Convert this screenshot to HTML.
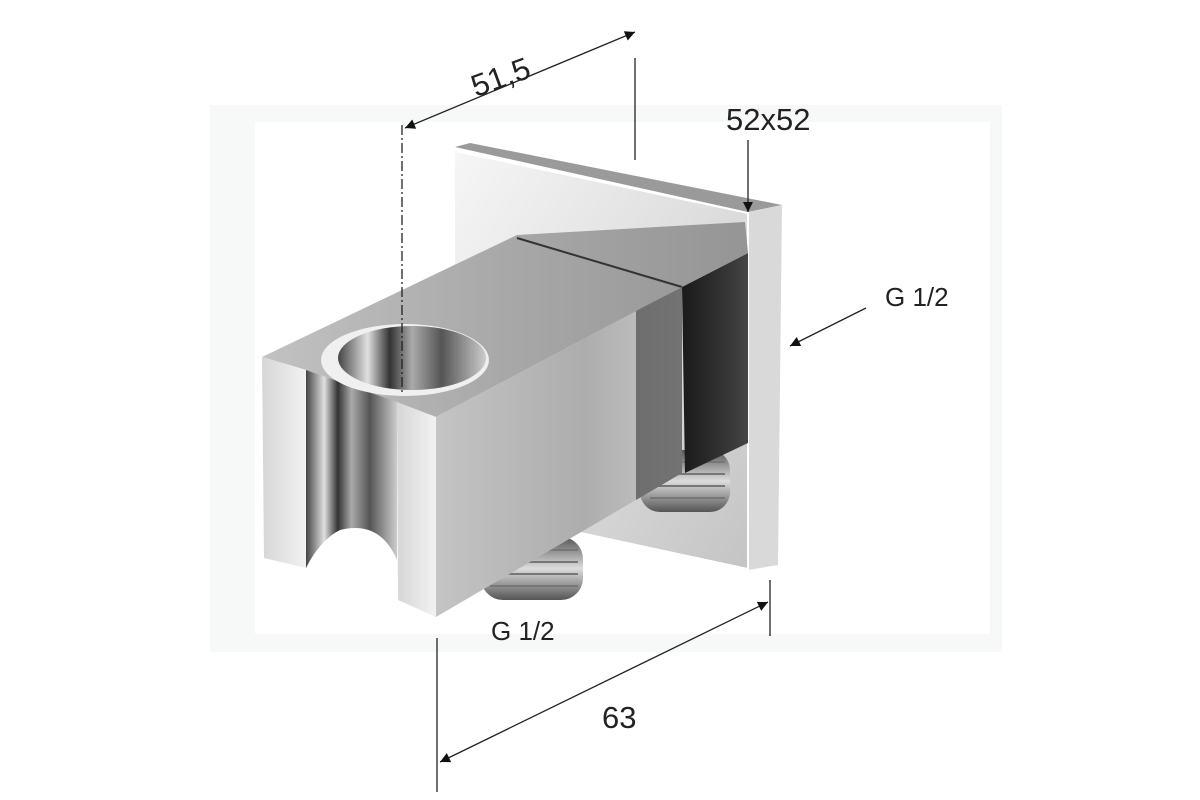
<!DOCTYPE html>
<html><head><meta charset="utf-8"><style>
html,body{margin:0;padding:0;background:#fff;}
svg{display:block;}
text{font-family:"Liberation Sans",sans-serif;fill:#222;}
</style></head><body>
<svg width="1200" height="800" viewBox="0 0 1200 800" xmlns="http://www.w3.org/2000/svg">
<defs>
<linearGradient id="plate" x1="0" y1="0" x2="1" y2="1">
<stop offset="0" stop-color="#f6f6f6"/><stop offset="0.5" stop-color="#dedede"/><stop offset="1" stop-color="#c4c4c4"/></linearGradient>
<linearGradient id="top" x1="0" y1="0" x2="1" y2="0">
<stop offset="0" stop-color="#c2c2c2"/><stop offset="0.5" stop-color="#a8a8a8"/><stop offset="1" stop-color="#959595"/></linearGradient>
<linearGradient id="face" x1="0" y1="0" x2="1" y2="0">
<stop offset="0" stop-color="#c4c4c4"/><stop offset="0.6" stop-color="#adadad"/><stop offset="1" stop-color="#c8c8c8"/></linearGradient>
<linearGradient id="prong" x1="0" y1="0" x2="1" y2="0">
<stop offset="0" stop-color="#d6d6d6"/><stop offset="1" stop-color="#f2f2f2"/></linearGradient>
<linearGradient id="inner" x1="0" y1="0" x2="1" y2="0">
<stop offset="0" stop-color="#444"/><stop offset="0.2" stop-color="#e0e0e0"/><stop offset="0.35" stop-color="#333"/><stop offset="0.5" stop-color="#aaa"/><stop offset="0.7" stop-color="#555"/><stop offset="1" stop-color="#ccc"/></linearGradient>
<linearGradient id="dark" x1="0" y1="0" x2="1" y2="0">
<stop offset="0" stop-color="#1a1a1a"/><stop offset="0.5" stop-color="#2e2e2e"/><stop offset="1" stop-color="#444"/></linearGradient>
<linearGradient id="thread" x1="0" y1="0" x2="0" y2="1">
<stop offset="0" stop-color="#555"/><stop offset="0.5" stop-color="#ddd"/><stop offset="1" stop-color="#555"/></linearGradient>
<marker id="ar" viewBox="0 0 10 10" refX="10" refY="5" markerWidth="14" markerHeight="10" orient="auto-start-reverse" markerUnits="userSpaceOnUse">
<path d="M0,0 L10,5 L0,10 z" fill="#111"/></marker>
</defs>
<!-- faint frame -->
<rect x="210" y="105" width="792" height="547" fill="#f7f9f9"/>
<rect x="255" y="122" width="735" height="512" fill="#fff"/>

<!-- plate -->
<polygon points="455,147 470,143 782,205 748,212" fill="#9a9a9a"/>
<polygon points="455,152 748,214 748,568 455,505" fill="url(#plate)"/>
<polygon points="748,212 782,205 778,565 748,570" fill="#d9d9d9"/>
<line x1="748" y1="212" x2="748" y2="570" stroke="#fff" stroke-width="2"/>

<!-- threads -->
<g fill="url(#thread)">
<rect x="640" y="450" width="90" height="62" rx="20"/>
<rect x="481" y="537" width="102" height="63" rx="22"/>
</g>
<g stroke="#777" stroke-width="2">
<line x1="650" y1="462" x2="725" y2="462"/><line x1="650" y1="474" x2="725" y2="474"/><line x1="650" y1="486" x2="725" y2="486"/><line x1="650" y1="498" x2="725" y2="498"/>
<line x1="490" y1="550" x2="578" y2="550"/><line x1="490" y1="562" x2="578" y2="562"/><line x1="490" y1="574" x2="578" y2="574"/><line x1="490" y1="586" x2="578" y2="586"/>
</g>

<!-- dark side face -->
<polygon points="682,287 748,253 748,443 685,473" fill="url(#dark)"/>
<!-- top face -->
<polygon points="262,357 517,235 745,222 748,253 682,287 436,417 306,370" fill="url(#top)"/>
<line x1="517" y1="238" x2="682" y2="287" stroke="#333" stroke-width="2"/>
<!-- inner cylinder -->
<path d="M306,370 L397,402 L397,560 Q380,520 340,530 Q320,540 306,568 Z" fill="url(#inner)"/>
<!-- hole -->
<ellipse cx="405" cy="360" rx="84" ry="36" fill="#f0f0f0"/>
<ellipse cx="412" cy="358" rx="74" ry="32" fill="url(#inner)"/>
<!-- left prong -->
<polygon points="262,357 306,370 306,568 264,558" fill="url(#prong)"/>
<!-- right prong thin face -->
<polygon points="397,402 436,417 436,617 398,600" fill="url(#prong)"/>
<!-- big front face -->
<polygon points="436,417 682,287 682,473 436,617" fill="url(#face)"/>
<polygon points="636,311 682,287 682,473 636,500" fill="#3a3a3a" opacity="0.6"/>

<!-- dimension lines -->
<g stroke="#222" stroke-width="1.3" fill="none">
<line x1="405" y1="128" x2="635" y2="32" marker-start="url(#ar)" marker-end="url(#ar)"/>
<line x1="635" y1="58" x2="635" y2="160"/>
<line x1="402" y1="125" x2="402" y2="395" stroke-dasharray="10,3,2,3"/>
<line x1="748" y1="140" x2="748" y2="212" marker-end="url(#ar)"/>
<line x1="866" y1="308" x2="790" y2="346" marker-end="url(#ar)"/>
<line x1="440" y1="762" x2="768" y2="602" marker-start="url(#ar)" marker-end="url(#ar)"/>
<line x1="437" y1="638" x2="437" y2="792"/>
<line x1="770" y1="580" x2="770" y2="636"/>
</g>
<text x="470" y="86" font-size="31" transform="rotate(-20 505 75)">51,5</text>
<text x="726" y="130" font-size="31">52x52</text>
<text x="885" y="306" font-size="26">G 1/2</text>
<text x="491" y="640" font-size="26">G 1/2</text>
<text x="602" y="728" font-size="31">63</text>
</svg>
</body></html>
